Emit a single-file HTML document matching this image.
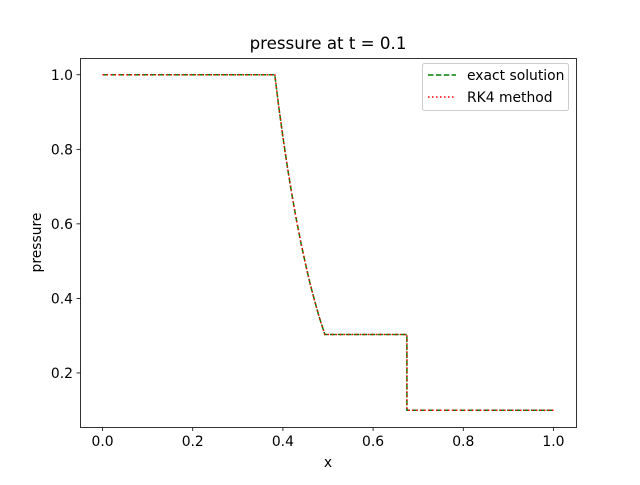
<!DOCTYPE html>
<html><head><meta charset="utf-8"><style>
body{margin:0;background:#fff}
svg text{font-family:"DejaVu Sans","Liberation Sans",sans-serif;fill:#000}
</style></head><body>
<svg id="chart" width="640" height="480" xmlns="http://www.w3.org/2000/svg">
<rect width="640" height="480" fill="#fff"/>
<text x="328" y="49" font-size="16.67" text-anchor="middle">pressure at t = 0.1</text>
<g id="axes"></g>
<text x="328" y="467" font-size="13.89" text-anchor="middle">x</text>
<text transform="translate(41,242.5) rotate(-90)" font-size="13.89" text-anchor="middle">pressure</text>
<g>
<rect x="422.5" y="63.5" width="146" height="47" rx="2" fill="#fff" fill-opacity="0.8" stroke="#ccc"/>
<line x1="428" y1="75" x2="456" y2="75" stroke="green" stroke-width="1.5" stroke-dasharray="5.5,2.4"/>
<text x="467" y="80" font-size="13.89">exact solution</text>
<line x1="428" y1="97" x2="456" y2="97" stroke="red" stroke-width="1.5" stroke-dasharray="1.5,2.5"/>
<text x="467" y="102" font-size="13.89">RK4 method</text>
</g>
</svg>
<script>
const exactX=[0,0.382,0.39,0.40,0.41,0.42,0.43,0.44,0.45,0.46,0.47,0.48,0.493,0.675,0.675,1.0];
const exactP=[1,1,0.921,0.833,0.752,0.678,0.610,0.549,0.493,0.441,0.395,0.352,0.303,0.303,0.1,0.1];
const rk4X=[0,0.382,0.39,0.40,0.41,0.42,0.43,0.44,0.45,0.46,0.47,0.48,0.493,0.675,0.675,1.0];
const rk4P=[1,1,0.921,0.833,0.752,0.678,0.610,0.549,0.493,0.441,0.395,0.352,0.303,0.303,0.1,0.1];
const xTicks=[0.0,0.2,0.4,0.6,0.8,1.0];
const yTicks=[0.2,0.4,0.6,0.8,1.0];
const L=80,R=576,T=58,B=427;
const allX=exactX.concat(rk4X), allP=exactP.concat(rk4P);
const xmin0=Math.min(...allX),xmax0=Math.max(...allX),ymin0=Math.min(...allP),ymax0=Math.max(...allP);
const xmin=xmin0-0.05*(xmax0-xmin0),xmax=xmax0+0.05*(xmax0-xmin0);
const ymin=ymin0-0.05*(ymax0-ymin0),ymax=ymax0+0.05*(ymax0-ymin0);
const sx=v=>L+(v-xmin)/(xmax-xmin)*(R-L);
const sy=v=>B-(v-ymin)/(ymax-ymin)*(B-T);
const NS='http://www.w3.org/2000/svg';
const g=document.getElementById('axes');
function mk(tag,attrs){const e=document.createElementNS(NS,tag);for(const k in attrs)e.setAttribute(k,attrs[k]);g.appendChild(e);return e;}
function series(xs,ps,color,dash,name){
  const d=xs.map((x,i)=>(i?'L':'M')+sx(x).toFixed(2)+','+sy(ps[i]).toFixed(2)).join(' ');
  const p=mk('path',{d:d,fill:'none',stroke:color,'stroke-width':1.5,'stroke-dasharray':dash});
  
  
}
series(exactX,exactP,'green','5.5,2.4','exact-solution-line');
series(rk4X,rk4P,'red','1.5,2.5','rk4-method-line');
const frame=mk('rect',{x:L+0.5,y:T+0.5,width:R-L,height:B-T,fill:'none',stroke:'#000','stroke-width':0.8});


xTicks.forEach(v=>{
  const x=sx(v);
  const t=mk('line',{x1:x,y1:B+0.5,x2:x,y2:B+4,stroke:'#000','stroke-width':0.8});
  
  
  const l=mk('text',{x:x,y:B+19,'font-size':13.89,'text-anchor':'middle'});
  l.textContent=v.toFixed(1);
  
  
});
yTicks.forEach(v=>{
  const y=sy(v);
  const t=mk('line',{x1:L-3.5,y1:y,x2:L+0.5,y2:y,stroke:'#000','stroke-width':0.8});
  
  
  const l=mk('text',{x:L-7,y:y+5,'font-size':13.89,'text-anchor':'end'});
  l.textContent=v.toFixed(1);
  
  
});
</script>
</body></html>
